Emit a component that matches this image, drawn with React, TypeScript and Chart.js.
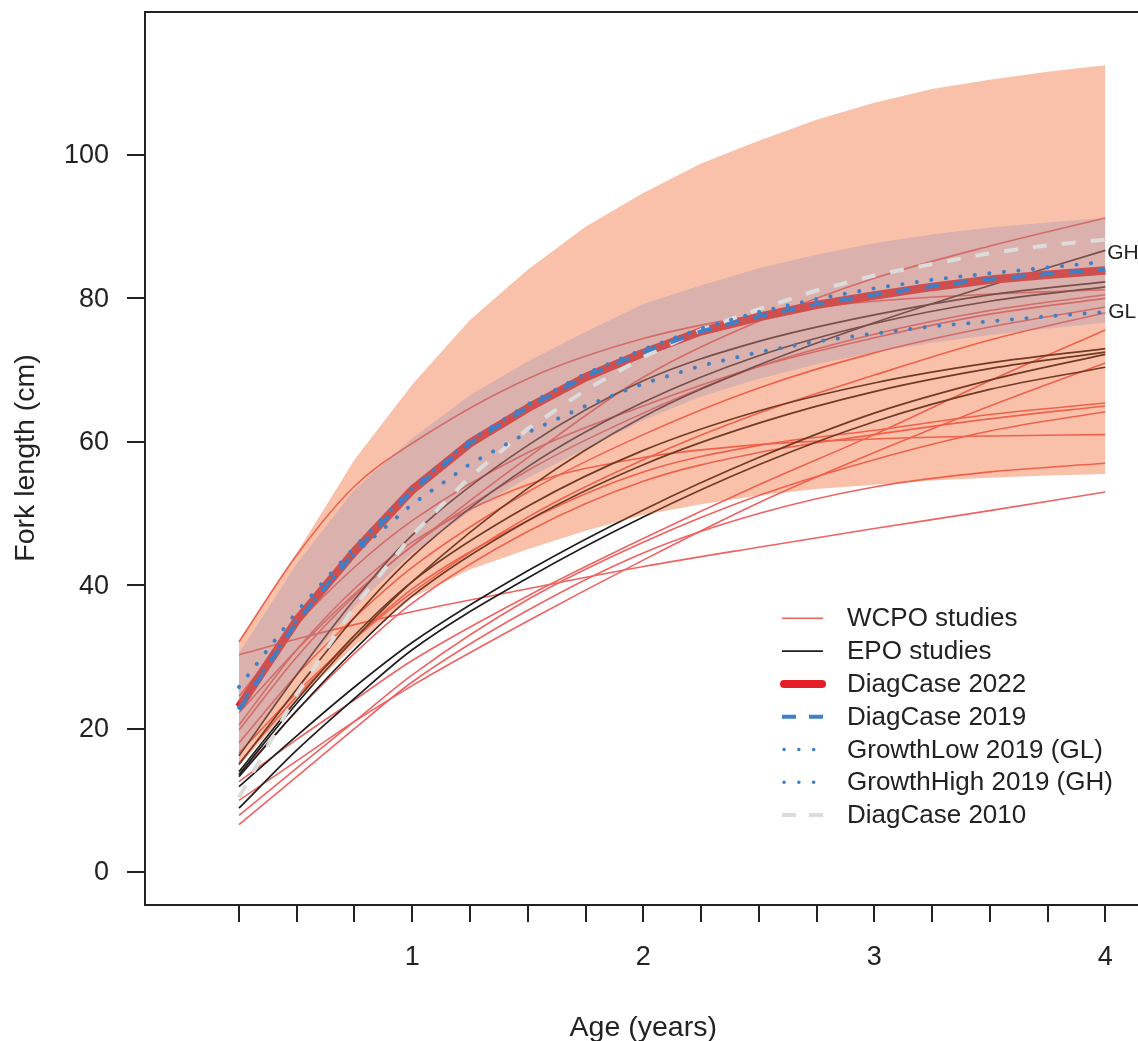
import React, { useEffect, useRef } from "react";
import { Chart, registerables } from "chart.js";

Chart.register(...registerables);

// ---------- axes / ticks ----------
const xTicks = [0.25, 0.5, 0.75, 1, 1.25, 1.5, 1.75, 2, 2.25, 2.5, 2.75, 3, 3.25, 3.5, 3.75, 4];
const xTickLabels = [1, 2, 3, 4];
const yTickLabels = [0, 20, 40, 60, 80, 100];
const xTitle = "Age (years)";
const yTitle = "Fork length (cm)";

// ---------- age grids ----------
const ageQ = [0.25, 0.5, 0.75, 1, 1.25, 1.5, 1.75, 2, 2.25, 2.5, 2.75, 3, 3.25, 3.5, 3.75, 4];
const ageS = [0.25, 0.5, 0.75, 1, 1.5, 2, 2.5, 3, 3.5, 4];

// ---------- bands (quarterly) ----------
const outerUpper = [32.3, 44.5, 57.5, 68.0, 77.0, 84.0, 90.0, 94.7, 98.8, 102.0, 104.9, 107.3, 109.2, 110.5, 111.6, 112.5];
const outerLower = [14.8, 24.0, 31.5, 38.3, 42.2, 45.0, 47.6, 49.8, 51.3, 52.5, 53.4, 54.0, 54.6, 55.0, 55.3, 55.5];
const innerUpper = [30.5, 43.0, 53.3, 60.5, 66.5, 71.2, 75.3, 79.2, 81.8, 84.2, 86.1, 87.7, 88.9, 89.9, 90.6, 91.2];
const innerLower = [16.3, 27.5, 37.0, 44.5, 50.3, 55.0, 59.0, 63.0, 66.3, 68.8, 70.8, 72.5, 73.8, 74.9, 75.8, 76.6];

// ---------- model curves (quarterly) ----------
const diag2022 = [23.0, 35.1, 44.7, 53.3, 59.8, 64.7, 69.0, 72.4, 75.4, 77.4, 79.1, 80.4, 81.6, 82.6, 83.3, 83.9];
const diag2019 = [22.6, 34.9, 44.6, 53.2, 59.8, 64.8, 69.1, 72.5, 75.4, 77.5, 79.2, 80.5, 81.7, 82.7, 83.4, 84.0];
const growthLow = [23.0, 35.0, 44.4, 51.3, 56.9, 61.3, 65.0, 68.1, 70.6, 72.5, 74.0, 75.1, 76.1, 76.8, 77.5, 78.1];
const growthHigh = [25.8, 36.3, 45.3, 53.6, 60.2, 65.2, 69.5, 72.9, 75.8, 78.1, 79.9, 81.4, 82.6, 83.5, 84.3, 85.1];
const diag2010 = [10.4, 24.8, 37.0, 47.0, 55.1, 61.8, 67.2, 71.8, 75.6, 78.5, 81.1, 83.2, 84.8, 86.3, 87.4, 88.2];
const ghLabelY = 86.3;
const glLabelY = 78.1;

// ---------- study curves (ageS) ----------
const wcpo1 = [32.1, 44.2, 53.8, 59.8, 68.8, 74.4, 77.7, 79.6, 80.6, 81.2];
const wcpo2 = [22.2, 31.0, 38.8, 45.5, 57.8, 69.0, 76.8, 82.8, 87.3, 91.2];
const wcpo3 = [30.3, 32.5, 34.5, 36.3, 39.5, 42.6, 45.3, 47.9, 50.4, 53.0];
const wcpo4 = [19.8, 30.0, 38.5, 45.5, 56.0, 64.0, 70.5, 75.0, 78.3, 80.5];
const wcpo5 = [18.0, 27.5, 35.5, 42.5, 53.0, 61.0, 67.5, 72.4, 76.0, 78.8];
const wcpo6 = [16.6, 25.0, 32.5, 39.0, 49.5, 57.5, 64.0, 69.3, 74.2, 78.0];
const wcpo7 = [12.6, 18.5, 24.0, 29.5, 38.5, 46.5, 54.0, 61.0, 68.5, 75.6];
const wcpo8 = [10.0, 15.5, 21.0, 26.0, 35.0, 43.5, 51.5, 58.5, 65.0, 71.0];
const wcpo9 = [15.2, 24.5, 32.5, 39.5, 49.0, 55.8, 59.5, 61.6, 63.8, 65.4];
const wcpo10 = [13.5, 22.5, 30.5, 37.5, 47.5, 54.5, 58.5, 61.0, 63.2, 65.0];
const wcpo11 = [7.9, 14.5, 21.0, 27.5, 38.0, 46.0, 52.5, 57.5, 61.5, 64.2];
const wcpo12 = [20.5, 31.0, 39.5, 46.0, 54.0, 57.8, 59.6, 60.4, 60.8, 61.0];
const wcpo13 = [6.6, 13.3, 20.0, 26.5, 36.5, 44.5, 50.0, 53.7, 55.8, 57.0];
const wcpo14 = [24.5, 34.5, 42.5, 49.0, 58.5, 65.0, 70.5, 74.5, 77.8, 80.0];

const epo1 = [16.2, 27.5, 38.0, 47.0, 59.5, 68.5, 74.0, 77.7, 80.5, 82.3];
const epo2 = [13.6, 23.5, 32.5, 40.5, 53.5, 63.5, 70.7, 76.6, 81.8, 86.7];
const epo3 = [14.0, 24.0, 33.0, 40.5, 51.0, 58.8, 64.3, 68.2, 71.0, 73.0];
const epo4 = [13.3, 22.5, 31.0, 38.5, 49.0, 56.8, 62.6, 67.0, 70.2, 72.5];
const epo5 = [11.9, 19.0, 25.8, 32.0, 42.0, 50.5, 57.8, 64.0, 68.6, 72.2];
const epo6 = [8.9, 17.0, 24.2, 31.0, 41.0, 49.5, 56.8, 62.8, 67.3, 70.4];
const epo7 = [15.0, 25.5, 35.5, 44.0, 56.5, 65.5, 72.0, 76.5, 79.6, 81.6];

const wcpoSeries = [wcpo1, wcpo2, wcpo3, wcpo4, wcpo5, wcpo6, wcpo7, wcpo8, wcpo9, wcpo10, wcpo11, wcpo12, wcpo13, wcpo14];
const epoSeries = [epo1, epo2, epo3, epo4, epo5, epo6, epo7];

const legendLabels = [
  "WCPO studies",
  "EPO studies",
  "DiagCase 2022",
  "DiagCase 2019",
  "GrowthLow 2019 (GL)",
  "GrowthHigh 2019 (GH)",
  "DiagCase 2010",
];

// ---------- styles ----------
const C_WCPO = "#F06262";
const C_EPO = "#1E1E1E";
const C_2022 = "#E41E26";
const C_BLUE = "#3F7FC6";
const C_2010 = "#DCDCDC";
const C_OUTER = "rgba(240,98,42,0.4)";
const C_INNER = "rgba(135,135,180,0.28)";
const FONT = '"Liberation Sans", Arial, Helvetica, sans-serif';
const INK = "#222222";

const pts = (xs: number[], ys: number[]) => xs.map((x, i) => ({ x, y: ys[i] }));

export default function App() {
  const ref = useRef<HTMLCanvasElement | null>(null);

  useEffect(() => {
    if (!ref.current) return;

    const datasets: any[] = [];
    // 0 GL
    datasets.push({ data: pts(ageQ, growthLow), borderColor: C_BLUE, borderWidth: 4, borderDash: [0.1, 14.5], borderCapStyle: "round", fill: false, order: 1 });
    // 1 GH
    datasets.push({ data: pts(ageQ, growthHigh), borderColor: C_BLUE, borderWidth: 4, borderDash: [0.1, 14.5], borderCapStyle: "round", fill: false, order: 2 });
    // 2 DiagCase 2019
    datasets.push({ data: pts(ageQ, diag2019), borderColor: C_BLUE, borderWidth: 4, borderDash: [14, 15], borderCapStyle: "butt", fill: false, order: 3 });
    // 3 DiagCase 2010
    datasets.push({ data: pts(ageQ, diag2010), borderColor: C_2010, borderWidth: 4, borderDash: [14, 15], borderCapStyle: "butt", fill: false, order: 4 });
    // 4 inner lower, 5 inner upper
    datasets.push({ data: pts(ageQ, innerLower), borderWidth: 0, borderColor: "rgba(0,0,0,0)", fill: false, order: 5 });
    datasets.push({ data: pts(ageQ, innerUpper), borderWidth: 0, borderColor: "rgba(0,0,0,0)", backgroundColor: C_INNER, fill: 4, order: 5 });
    // 6 outer lower, 7 outer upper
    datasets.push({ data: pts(ageQ, outerLower), borderWidth: 0, borderColor: "rgba(0,0,0,0)", fill: false, order: 6 });
    datasets.push({ data: pts(ageQ, outerUpper), borderWidth: 0, borderColor: "rgba(0,0,0,0)", backgroundColor: C_OUTER, fill: 6, order: 6 });
    // 8 DiagCase 2022
    datasets.push({ data: pts(ageQ, diag2022), borderColor: C_2022, borderWidth: 8.5, borderCapStyle: "butt", fill: false, order: 7 });
    // EPO studies
    epoSeries.forEach((s) => datasets.push({ data: pts(ageS, s), borderColor: C_EPO, borderWidth: 1.7, cubicInterpolationMode: "monotone", fill: false, order: 8 }));
    // WCPO studies
    wcpoSeries.forEach((s) => datasets.push({ data: pts(ageS, s), borderColor: C_WCPO, borderWidth: 1.6, cubicInterpolationMode: "monotone", fill: false, order: 9 }));

    const decor = {
      id: "decor",
      afterDraw(chart: any) {
        const ctx = chart.ctx as CanvasRenderingContext2D;
        const xs = chart.scales.x;
        const ys = chart.scales.y;
        const ca = chart.chartArea;
        ctx.save();
        ctx.strokeStyle = INK;
        ctx.lineWidth = 2;
        ctx.lineCap = "butt";
        // box (right side lies outside the picture)
        ctx.beginPath();
        ctx.moveTo(ca.right + 20, ca.top);
        ctx.lineTo(ca.left, ca.top);
        ctx.lineTo(ca.left, ca.bottom);
        ctx.lineTo(ca.right + 20, ca.bottom);
        ctx.stroke();

        // x ticks
        ctx.beginPath();
        xTicks.forEach((v) => {
          const px = Math.round(xs.getPixelForValue(v));
          ctx.moveTo(px, ca.bottom);
          ctx.lineTo(px, ca.bottom + 17);
        });
        ctx.stroke();
        ctx.fillStyle = INK;
        ctx.font = `27px ${FONT}`;
        ctx.textAlign = "center";
        ctx.textBaseline = "middle";
        xTickLabels.forEach((v) => {
          ctx.fillText(String(v), xs.getPixelForValue(v), 958);
        });

        // y ticks
        ctx.beginPath();
        yTickLabels.forEach((v) => {
          const py = Math.round(ys.getPixelForValue(v));
          ctx.moveTo(ca.left, py);
          ctx.lineTo(ca.left - 18, py);
        });
        ctx.stroke();
        ctx.textAlign = "right";
        yTickLabels.forEach((v) => {
          ctx.fillText(String(v), 109, ys.getPixelForValue(v) + 1);
        });

        // axis titles
        ctx.font = `28.5px ${FONT}`;
        ctx.textAlign = "center";
        ctx.fillText(xTitle, (xs.getPixelForValue(1) + xs.getPixelForValue(3)) / 2 + 0, 1028);
        ctx.save();
        ctx.translate(26, 458);
        ctx.rotate(-Math.PI / 2);
        ctx.fillText(yTitle, 0, 0);
        ctx.restore();

        // GH / GL labels
        ctx.font = `21px ${FONT}`;
        ctx.textAlign = "left";
        ctx.fillText("GH", xs.getPixelForValue(4) + 2, ys.getPixelForValue(ghLabelY));
        ctx.fillText("GL", xs.getPixelForValue(4) + 3, ys.getPixelForValue(glLabelY));

        // legend
        const x0 = 782, x1 = 823, tx = 847, y0 = 618.3, dy = 32.8;
        const styles = [
          { c: C_WCPO, w: 1.6, d: [] as number[], cap: "butt" },
          { c: C_EPO, w: 1.7, d: [] as number[], cap: "butt" },
          { c: C_2022, w: 8, d: [] as number[], cap: "round" },
          { c: C_BLUE, w: 4, d: [14, 13], cap: "butt" },
          { c: C_BLUE, w: 3.5, d: [0.1, 14.7], cap: "round" },
          { c: C_BLUE, w: 3.5, d: [0.1, 14.7], cap: "round" },
          { c: C_2010, w: 4, d: [14, 13], cap: "butt" },
        ];
        legendLabels.forEach((lab, i) => {
          const y = y0 + i * dy;
          const s = styles[i];
          ctx.save();
          ctx.strokeStyle = s.c;
          ctx.lineWidth = s.w;
          ctx.lineCap = s.cap as CanvasLineCap;
          ctx.setLineDash(s.d);
          ctx.beginPath();
          if (i === 4 || i === 5) {
            ctx.moveTo(x0 + 2, y);
            ctx.lineTo(x1, y);
          } else if (i === 2) {
            ctx.moveTo(x0 + 2, y);
            ctx.lineTo(x1 - 1, y);
          } else {
            ctx.moveTo(x0, y);
            ctx.lineTo(x1, y);
          }
          ctx.stroke();
          ctx.restore();
          ctx.fillStyle = INK;
          ctx.font = `26px ${FONT}`;
          ctx.textAlign = "left";
          ctx.textBaseline = "middle";
          ctx.fillText(lab, tx, y + 1);
        });
        ctx.restore();
      },
    };

    const chart = new Chart(ref.current, {
      type: "line",
      data: { datasets },
      options: {
        animation: false,
        responsive: false,
        devicePixelRatio: 1,
        events: [],
        layout: { padding: { left: 145, top: 12, right: 1, bottom: 136 } },
        elements: { point: { radius: 0 }, line: { borderJoinStyle: "round" } },
        plugins: { legend: { display: false }, tooltip: { enabled: false } },
        scales: {
          x: { type: "linear", display: false, min: -0.1569, max: 4.1374 },
          y: { type: "linear", display: false, min: -4.6, max: 119.94 },
        },
      } as any,
      plugins: [decor],
    });
    return () => chart.destroy();
  }, []);

  return (
    <div style={{ position: "absolute", left: 0, top: 0, width: 1138, height: 1041, background: "#ffffff" }}>
      <canvas ref={ref} width={1138} height={1041} style={{ display: "block" }} />
    </div>
  );
}
